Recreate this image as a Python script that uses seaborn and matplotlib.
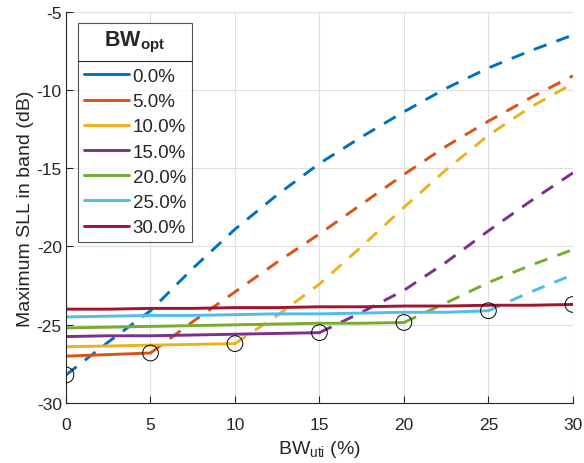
import matplotlib
matplotlib.use("Agg")
import matplotlib.pyplot as plt
from matplotlib.lines import Line2D
import seaborn as sns
import pandas as pd

# data
bw_uti = [0, 2.5, 5, 7.5, 10, 12.5, 15, 17.5, 20, 22.5, 25, 27.5, 30]
bw_opt = [0, 5, 10, 15, 20, 25, 30]
labels = ["0.0%", "5.0%", "10.0%", "15.0%", "20.0%", "25.0%", "30.0%"]

sll_0 = [-28.2, -26.1, -24.1, -21.4, -18.9, -16.7, -14.7, -13.0, -11.4, -9.9, -8.6, -7.5, -6.5]
sll_5 = [-27.0, -26.9, -26.8, -24.8, -22.9, -21.0, -19.2, -17.3, -15.4, -13.6, -12.0, -10.5, -9.1]
sll_10 = [-26.4, -26.35, -26.3, -26.25, -26.2, -24.4, -22.4, -20.0, -17.5, -15.1, -12.9, -11.1, -9.6]
sll_15 = [-25.75, -25.7, -25.7, -25.65, -25.6, -25.55, -25.5, -24.2, -22.8, -21.0, -19.0, -17.1, -15.3]
sll_20 = [-25.2, -25.15, -25.1, -25.05, -25.0, -24.95, -24.9, -24.9, -24.85, -23.6, -22.3, -21.2, -20.2]
sll_25 = [-24.5, -24.45, -24.4, -24.4, -24.35, -24.3, -24.3, -24.25, -24.2, -24.2, -24.1, -22.9, -21.8]
sll_30 = [-24.0, -24.0, -23.95, -23.95, -23.9, -23.9, -23.85, -23.85, -23.8, -23.8, -23.75, -23.75, -23.7]

series = [sll_0, sll_5, sll_10, sll_15, sll_20, sll_25, sll_30]
colors = ["#0072BD", "#D95319", "#EDB120", "#7E2F8E", "#77AC30", "#4DBEEE", "#A2142F"]

sns.set_style("white")
plt.rcParams["font.family"] = ["Liberation Sans", "DejaVu Sans"]
plt.rcParams["mathtext.fontset"] = "custom"
plt.rcParams["mathtext.rm"] = "Liberation Sans"
plt.rcParams["mathtext.bf"] = "Liberation Sans:bold"
plt.rcParams["axes.unicode_minus"] = False

fig = plt.figure(figsize=(5.84, 4.64), dpi=100)
ax = fig.add_axes([0.113, 0.129, 0.868, 0.844])

rows = []
for opt, lab, vals in zip(bw_opt, labels, series):
    for x, v in zip(bw_uti, vals):
        rows.append({"x": x, "y": v, "opt": opt, "label": lab})
df = pd.DataFrame(rows)

# dashed part (after optimisation bandwidth)
for opt, col in zip(bw_opt, colors):
    d = df[(df.opt == opt) & (df.x >= opt)]
    if len(d) > 1:
        sns.lineplot(data=d, x="x", y="y", color=col, lw=2.1,
                     linestyle=(0, (4.6, 3.6)), ax=ax, legend=False)

# solid part
for opt, lab, col in zip(bw_opt, labels, colors):
    d = df[(df.opt == opt) & (df.x <= opt)]
    if len(d) > 1:
        sns.lineplot(data=d, x="x", y="y", color=col, lw=2.1, ax=ax, label=lab)
    else:
        ax.plot(d.x, d.y, color=col, lw=2.1, label=lab)

# circles at BW_uti = BW_opt
pts = df[df.x == df.opt]
sns.scatterplot(data=pts, x="x", y="y", s=128, facecolor="none",
                edgecolor="black", linewidth=0.7, ax=ax, zorder=5, legend=False)

ax.set_xlim(0, 30)
ax.set_ylim(-30, -5)
ax.set_xticks(range(0, 31, 5))
ax.set_yticks(range(-30, -4, 5))
ax.grid(True, color="#dfdfdf", lw=0.8)
ax.set_axisbelow(True)
for s in ["top", "right"]:
    ax.spines[s].set_visible(False)
for s in ["left", "bottom"]:
    ax.spines[s].set_color("#262626")
    ax.spines[s].set_linewidth(0.8)
ax.tick_params(direction="in", length=5, width=0.8, colors="#262626",
               labelsize=12.5, labelcolor="#262626", left=True, bottom=True)
ax.tick_params(axis="x", pad=10)
ax.tick_params(axis="y", pad=3)
ax.set_xlabel("BW$_{\\mathrm{uti}}$ (%)", fontsize=14, color="#262626", labelpad=4)
ax.set_ylabel("Maximum SLL in band (dB)", fontsize=14, color="#262626", labelpad=2)

leg = ax.legend(title="BW$_{\\mathbf{opt}}$", loc="upper left",
                bbox_to_anchor=(0.024, 0.97), borderaxespad=0, fontsize=13.5,
                title_fontproperties={"weight": "bold", "size": 15.5},
                frameon=True, fancybox=False, handlelength=2.4,
                handletextpad=0.2, labelspacing=0.43, borderpad=0.3)
leg.get_frame().set_edgecolor("#262626")
leg.get_frame().set_linewidth(0.8)
leg.set_zorder(10)
leg._legend_box.sep = 10

# separator under the legend title
fig.canvas.draw()
fb = leg.get_frame().get_window_extent()
tb = leg.get_title().get_window_extent()
hb = leg._legend_handle_box.get_window_extent()
yline = (tb.y0 + hb.y1) / 2
inv = fig.transFigure.inverted()
x0, y0 = inv.transform((fb.x0, yline))
x1, _ = inv.transform((fb.x1, yline))
fig.add_artist(Line2D([x0, x1], [y0, y0], color="#262626", lw=0.8, zorder=20))

fig.savefig("out.png", dpi=100)
